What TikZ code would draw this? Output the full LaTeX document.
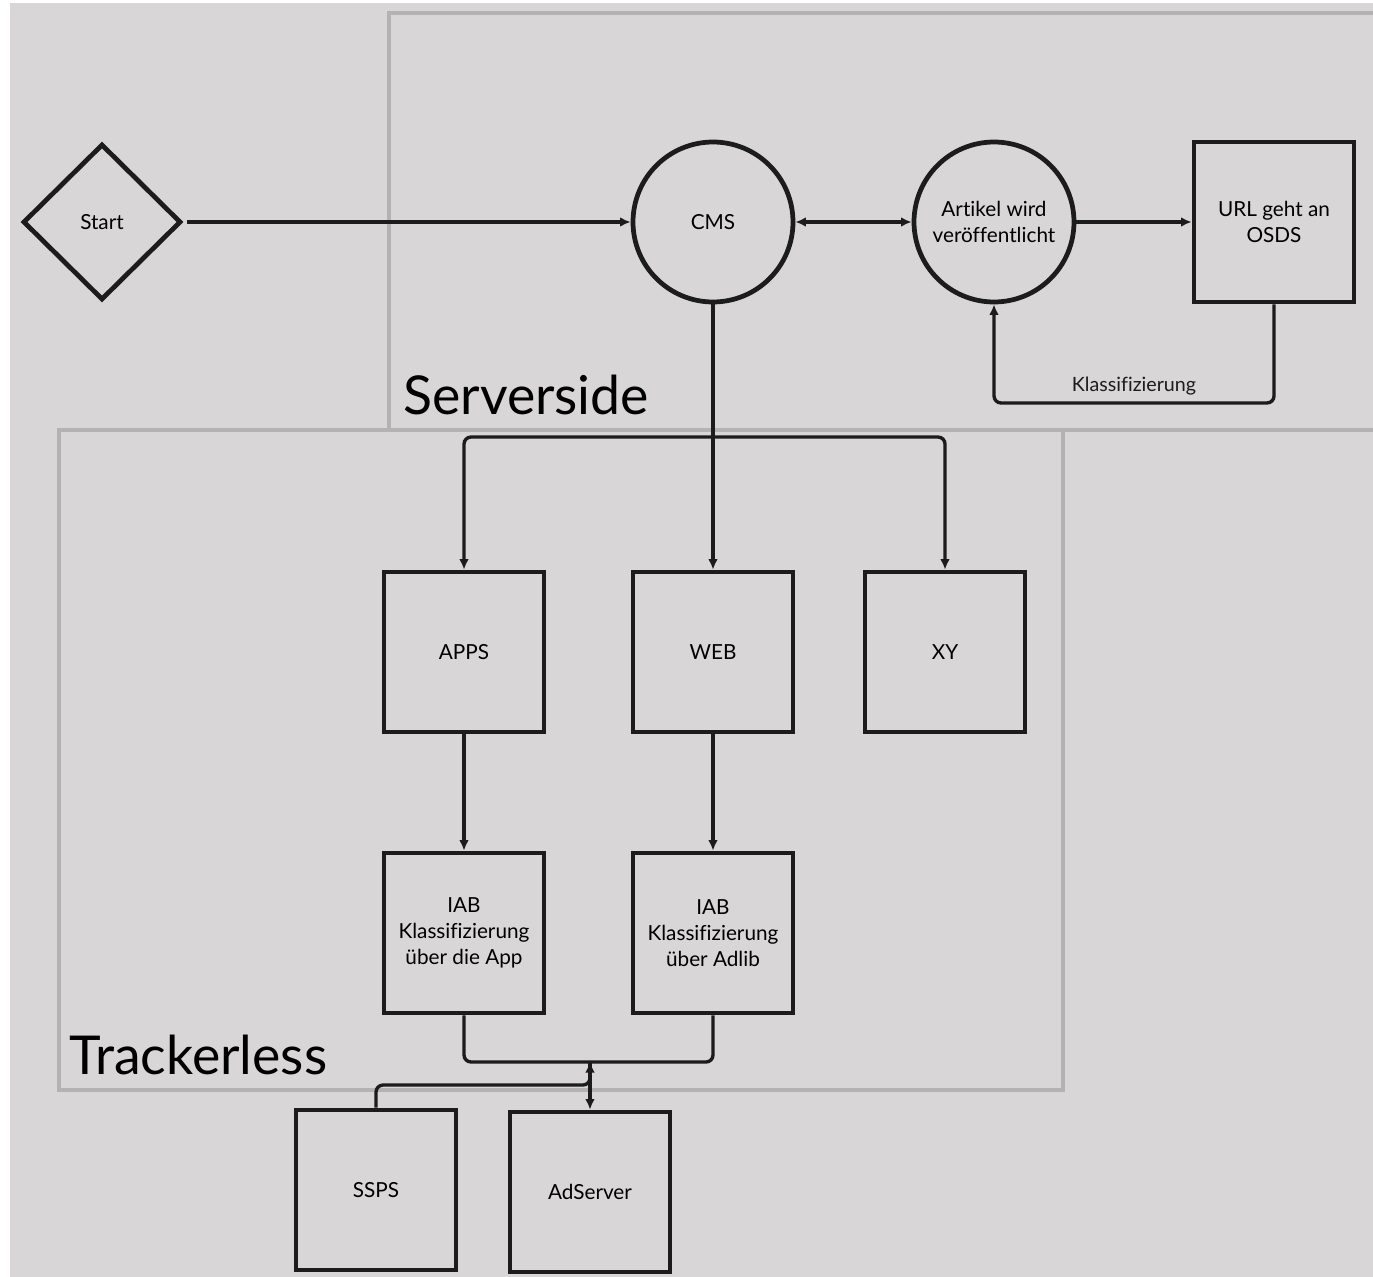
\documentclass[tikz,border=0pt]{standalone}
\usepackage{fontspec}
\setmainfont[Ligatures=NoCommon]{Lato}
\usepackage{xcolor}
\usepackage{tikz}
\usetikzlibrary{arrows.meta, positioning, shapes.geometric}

\definecolor{canvas}{HTML}{D8D6D7}
\definecolor{framegray}{HTML}{B4B2B3}
\definecolor{ink}{HTML}{1C1C1C}

\begin{document}
\begin{tikzpicture}[
    x=0.02cm, y=-0.02cm,
    box/.style={rectangle, draw=ink, line width=2.7pt, minimum size=3.2cm,
                inner sep=0pt, align=center, font=\fontsize{11.8}{14.7}\selectfont},
    rnd/.style={circle, draw=ink, line width=2.7pt, minimum size=3.2cm,
                inner sep=0pt, align=center, font=\fontsize{11.8}{14.7}\selectfont},
    dia/.style={diamond, draw=ink, line width=2.7pt, minimum width=3.16cm,
                minimum height=3.12cm, inner sep=0pt, font=\fontsize{11.8}{14.7}\selectfont},
    zone/.style={draw=framegray, line width=2pt},
    zonelbl/.style={anchor=base west, inner sep=0pt, font=\fontsize{30.5}{32}\selectfont},
    link/.style={draw=ink, line width=1.9pt, rounded corners=4pt},
    >={Latex[length=6pt,width=5.5pt]}
  ]
  \useasboundingbox (0,0) rectangle (1373,1277);
  \fill[white] (0,0) rectangle (1373,1277);
  \fill[canvas] (10,3) rectangle (1373,1277);

  % zones
  \draw[zone] (389,13) rectangle (1390,430);
  \draw[zone] (59,430) rectangle (1063,1090);
  \node[zonelbl] (srv) at (403,414) {Serverside};
  \node[zonelbl] (trk) at (69,1074) {Trackerless};

  % nodes
  \node[dia] (start) at (102,222) {Start};
  \node[rnd] (cms)   at (713,222) {CMS};
  \node[rnd] (pub)   at (994,222) {Artikel wird\\veröffentlicht};
  \node[box] (url)   at (1274,222) {URL geht an\\OSDS};
  \node[box] (apps)  at (464,652) {APPS};
  \node[box] (web)   at (713,652) {WEB};
  \node[box] (xy)    at (945,652) {XY};
  \node[box] (iabapp) at (464,933) {IAB\\Klassifizierung\\über die App};
  \node[box] (iabweb) at (713,933) {IAB\\Klassifizierung\\über Adlib};
  \node[box] (ssps)  at (376,1190) {SSPS};
  \node[box] (ads)   at (590,1192) {AdServer};

  \coordinate (split) at (713,437);
  \coordinate (merge) at (590,1062);

  % connectors
  \draw[link, ->] (start.east) ++(4,0) -- (cms.west);
  \draw[link, <->] (cms.east) -- (pub.west);
  \draw[link, ->] (pub.east) -- (url.west);
  \draw[link, ->] (url.south) |- (994,403)
    node[pos=0.75, above, text=ink, font=\fontsize{11.2}{12}\selectfont] (klass) {Klassifizierung}
    -- (pub.south);
  \draw[link] (cms.south) -- (split);
  \draw[link, ->] (split) -| (apps.north);
  \draw[link, ->] (split) -- (web.north);
  \draw[link, ->] (split) -| (xy.north);
  \draw[link, ->] (apps) -- (iabapp);
  \draw[link, ->] (web) -- (iabweb);
  \draw[link] (iabapp.south) |- (merge);
  \draw[link] (iabweb.south) |- (merge);
  \draw[link, ->] (ssps.north) |- (590,1085) -- (merge);
  \draw[link, ->] (merge) -- (ads.north);
\end{tikzpicture}
\end{document}
